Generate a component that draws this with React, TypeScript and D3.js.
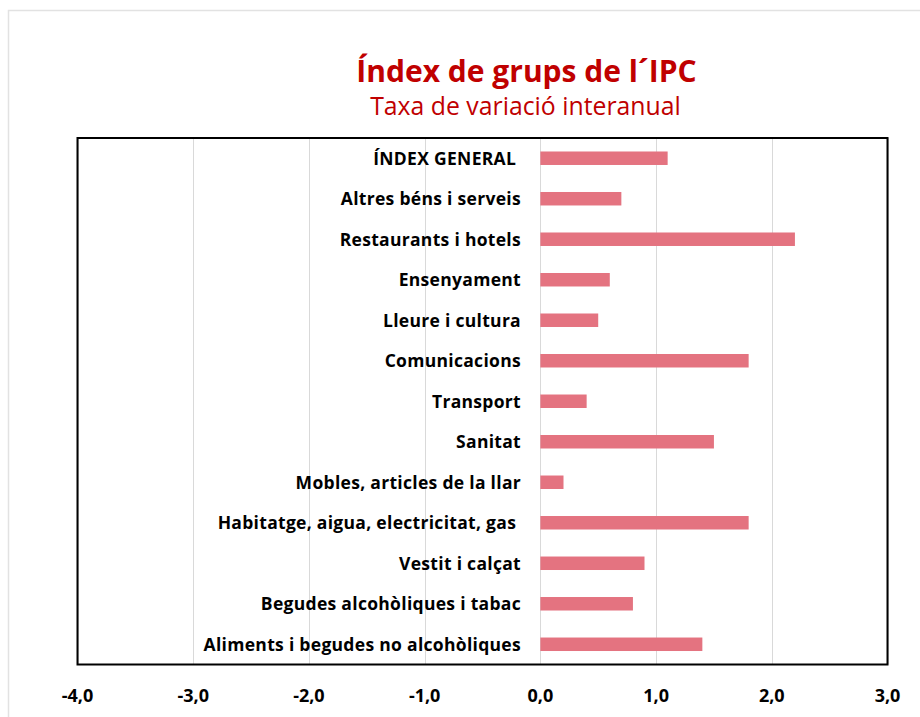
import React from "react";
import * as d3 from "d3";

const categories = [
  "ÍNDEX GENERAL",
  "Altres béns i serveis",
  "Restaurants i hotels",
  "Ensenyament",
  "Lleure i cultura",
  "Comunicacions",
  "Transport",
  "Sanitat",
  "Mobles, articles de la llar",
  "Habitatge, aigua, electricitat, gas",
  "Vestit i calçat",
  "Begudes alcohòliques i tabac",
  "Aliments i begudes no alcohòliques",
];
const values = [1.1, 0.7, 2.2, 0.6, 0.5, 1.8, 0.4, 1.5, 0.2, 1.8, 0.9, 0.8, 1.4];
const xTicks = [-4, -3, -2, -1, 0, 1, 2, 3];
const title = "Índex de grups de l´IPC";
const subtitle = "Taxa de variació interanual";
const trailingSpace = ["ÍNDEX GENERAL", "Habitatge, aigua, electricitat, gas"];

const W = 920;
const H = 717;
const box = { left: 77.5, top: 138, right: 887.5, bottom: 664.5 };
const FONT = "'Open Sans', Lato, sans-serif";
const RED = "#C00000";

export default function App() {
  const x = d3.scaleLinear().domain([-4, 3]).range([box.left, box.right]);
  const y = d3
    .scaleBand<string>()
    .domain(categories)
    .range([box.top, box.bottom])
    .paddingInner(0.667)
    .paddingOuter(0.333);
  const fmt = (v: number) => v.toFixed(1).replace(".", ",");
  const bw = y.bandwidth();

  return (
    <svg
      width={W}
      height={H}
      style={{ position: "absolute", left: 0, top: 0, background: "#fff" }}
    >
      <rect x={0} y={0} width={W} height={H} fill="#fff" />
      <rect x={8.5} y={10.5} width={1200} height={1200} fill="none" stroke="#e2e2e2" strokeWidth={1.5} />
      <text x={526.5} y={82} textAnchor="middle" fill={RED} fontFamily={FONT} fontWeight={700} fontSize={30}>
        {title}
      </text>
      <text x={525.5} y={115} textAnchor="middle" fill={RED} fontFamily={FONT} fontWeight={400} fontSize={24.8}>
        {subtitle}
      </text>
      {xTicks.map((t) => (
        <line
          key={"g" + t}
          x1={Math.round(x(t)) + 0.5}
          x2={Math.round(x(t)) + 0.5}
          y1={box.top}
          y2={box.bottom}
          stroke="#d9d9d9"
          strokeWidth={1}
        />
      ))}
      {categories.map((c, i) => {
        const v = values[i];
        const y0 = y(c)!;
        return (
          <g key={c}>
            <rect
              x={x(Math.min(0, v))}
              y={y0}
              width={Math.abs(x(v) - x(0))}
              height={bw}
              fill="#E47380"
            />
            <text
              x={521}
              y={y0 + bw / 2}
              dy="0.36em"
              textAnchor="end"
              fontFamily={FONT}
              fontWeight={700}
              fontSize={17.5}
              letterSpacing={0.3}
              fill="#000"
              style={{ whiteSpace: "pre" }}
            >
              {trailingSpace.includes(c) ? c + "\u00a0" : c}
            </text>
          </g>
        );
      })}
      <rect
        x={box.left}
        y={box.top}
        width={box.right - box.left}
        height={box.bottom - box.top}
        fill="none"
        stroke="#000"
        strokeWidth={2}
      />
      {xTicks.map((t) => (
        <text
          key={"t" + t}
          x={x(t)}
          y={701.5}
          textAnchor="middle"
          fontFamily={FONT}
          fontWeight={700}
          fontSize={18}
          fill="#000"
        >
          {fmt(t)}
        </text>
      ))}
    </svg>
  );
}
